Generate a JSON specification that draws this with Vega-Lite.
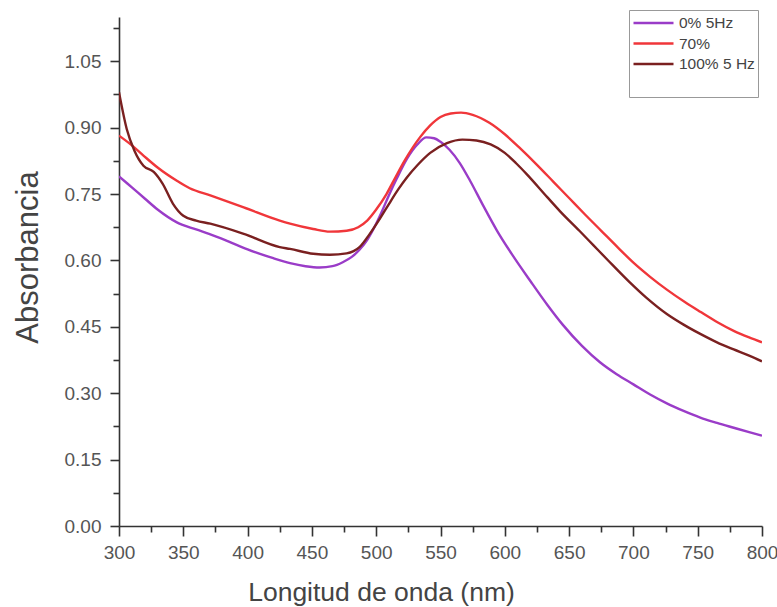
{
  "$schema": "https://vega.github.io/schema/vega-lite/v6.json",
  "width": 643,
  "height": 509,
  "autosize": {"type": "none"},
  "padding": {"left": 119, "top": 17, "right": 15, "bottom": 81},
  "background": "white",
  "config": {
    "view": {"stroke": null},
    "axis": {
      "grid": false,
      "domainColor": "#333333",
      "domainWidth": 1.6,
      "tickColor": "#333333",
      "tickWidth": 1.6,
      "labelFont": "Liberation Sans",
      "labelFontSize": 19,
      "labelColor": "#555555",
      "titleFont": "Liberation Sans",
      "titleColor": "#444444",
      "titleFontWeight": "normal"
    }
  },
  "data": {
    "values": [
      {"s": "0% 5Hz", "x": 300, "y": 0.79},
      {"s": "0% 5Hz", "x": 310, "y": 0.765},
      {"s": "0% 5Hz", "x": 320, "y": 0.74},
      {"s": "0% 5Hz", "x": 330, "y": 0.715},
      {"s": "0% 5Hz", "x": 345, "y": 0.686},
      {"s": "0% 5Hz", "x": 360, "y": 0.67},
      {"s": "0% 5Hz", "x": 370, "y": 0.66},
      {"s": "0% 5Hz", "x": 385, "y": 0.643},
      {"s": "0% 5Hz", "x": 400, "y": 0.625},
      {"s": "0% 5Hz", "x": 420, "y": 0.605},
      {"s": "0% 5Hz", "x": 433, "y": 0.594},
      {"s": "0% 5Hz", "x": 445, "y": 0.587},
      {"s": "0% 5Hz", "x": 456, "y": 0.584},
      {"s": "0% 5Hz", "x": 466, "y": 0.587},
      {"s": "0% 5Hz", "x": 474, "y": 0.596},
      {"s": "0% 5Hz", "x": 481, "y": 0.608},
      {"s": "0% 5Hz", "x": 487, "y": 0.624},
      {"s": "0% 5Hz", "x": 492, "y": 0.642},
      {"s": "0% 5Hz", "x": 498, "y": 0.672},
      {"s": "0% 5Hz", "x": 504, "y": 0.708},
      {"s": "0% 5Hz", "x": 510, "y": 0.748},
      {"s": "0% 5Hz", "x": 516, "y": 0.785},
      {"s": "0% 5Hz", "x": 524, "y": 0.83},
      {"s": "0% 5Hz", "x": 532, "y": 0.862},
      {"s": "0% 5Hz", "x": 539, "y": 0.878},
      {"s": "0% 5Hz", "x": 545, "y": 0.876},
      {"s": "0% 5Hz", "x": 550, "y": 0.868},
      {"s": "0% 5Hz", "x": 557, "y": 0.85},
      {"s": "0% 5Hz", "x": 565, "y": 0.82},
      {"s": "0% 5Hz", "x": 573, "y": 0.78},
      {"s": "0% 5Hz", "x": 583, "y": 0.725},
      {"s": "0% 5Hz", "x": 594, "y": 0.667},
      {"s": "0% 5Hz", "x": 606, "y": 0.612},
      {"s": "0% 5Hz", "x": 620, "y": 0.553},
      {"s": "0% 5Hz", "x": 633, "y": 0.5},
      {"s": "0% 5Hz", "x": 645, "y": 0.455},
      {"s": "0% 5Hz", "x": 660, "y": 0.407},
      {"s": "0% 5Hz", "x": 674, "y": 0.37},
      {"s": "0% 5Hz", "x": 687, "y": 0.343},
      {"s": "0% 5Hz", "x": 700, "y": 0.32},
      {"s": "0% 5Hz", "x": 713, "y": 0.297},
      {"s": "0% 5Hz", "x": 726, "y": 0.277},
      {"s": "0% 5Hz", "x": 739, "y": 0.26},
      {"s": "0% 5Hz", "x": 752, "y": 0.245},
      {"s": "0% 5Hz", "x": 765, "y": 0.233},
      {"s": "0% 5Hz", "x": 778, "y": 0.222},
      {"s": "0% 5Hz", "x": 790, "y": 0.212},
      {"s": "0% 5Hz", "x": 800, "y": 0.204},
      {"s": "70%", "x": 300, "y": 0.882},
      {"s": "70%", "x": 310, "y": 0.86},
      {"s": "70%", "x": 319, "y": 0.837},
      {"s": "70%", "x": 330, "y": 0.81},
      {"s": "70%", "x": 345, "y": 0.78},
      {"s": "70%", "x": 355, "y": 0.763},
      {"s": "70%", "x": 371, "y": 0.747},
      {"s": "70%", "x": 397, "y": 0.72},
      {"s": "70%", "x": 425, "y": 0.69},
      {"s": "70%", "x": 433, "y": 0.683},
      {"s": "70%", "x": 451, "y": 0.671},
      {"s": "70%", "x": 464, "y": 0.665},
      {"s": "70%", "x": 477, "y": 0.667},
      {"s": "70%", "x": 486, "y": 0.675},
      {"s": "70%", "x": 493, "y": 0.69},
      {"s": "70%", "x": 500, "y": 0.715},
      {"s": "70%", "x": 508, "y": 0.75},
      {"s": "70%", "x": 515, "y": 0.788},
      {"s": "70%", "x": 522, "y": 0.825},
      {"s": "70%", "x": 534, "y": 0.878},
      {"s": "70%", "x": 542, "y": 0.905},
      {"s": "70%", "x": 550, "y": 0.924},
      {"s": "70%", "x": 558, "y": 0.932},
      {"s": "70%", "x": 566, "y": 0.934},
      {"s": "70%", "x": 575, "y": 0.929},
      {"s": "70%", "x": 588, "y": 0.911},
      {"s": "70%", "x": 600, "y": 0.885},
      {"s": "70%", "x": 612, "y": 0.853},
      {"s": "70%", "x": 625, "y": 0.816},
      {"s": "70%", "x": 638, "y": 0.777},
      {"s": "70%", "x": 650, "y": 0.741},
      {"s": "70%", "x": 662, "y": 0.705},
      {"s": "70%", "x": 675, "y": 0.667},
      {"s": "70%", "x": 688, "y": 0.629},
      {"s": "70%", "x": 700, "y": 0.595},
      {"s": "70%", "x": 713, "y": 0.563},
      {"s": "70%", "x": 726, "y": 0.534},
      {"s": "70%", "x": 740, "y": 0.506},
      {"s": "70%", "x": 752, "y": 0.484},
      {"s": "70%", "x": 765, "y": 0.461},
      {"s": "70%", "x": 778, "y": 0.441},
      {"s": "70%", "x": 790, "y": 0.426},
      {"s": "70%", "x": 800, "y": 0.415},
      {"s": "100% 5 Hz", "x": 300, "y": 0.98},
      {"s": "100% 5 Hz", "x": 306, "y": 0.897},
      {"s": "100% 5 Hz", "x": 312, "y": 0.848},
      {"s": "100% 5 Hz", "x": 319, "y": 0.814},
      {"s": "100% 5 Hz", "x": 327, "y": 0.8},
      {"s": "100% 5 Hz", "x": 334, "y": 0.773},
      {"s": "100% 5 Hz", "x": 342, "y": 0.728},
      {"s": "100% 5 Hz", "x": 350, "y": 0.701},
      {"s": "100% 5 Hz", "x": 360, "y": 0.69},
      {"s": "100% 5 Hz", "x": 371, "y": 0.683},
      {"s": "100% 5 Hz", "x": 397, "y": 0.66},
      {"s": "100% 5 Hz", "x": 425, "y": 0.63},
      {"s": "100% 5 Hz", "x": 433, "y": 0.626},
      {"s": "100% 5 Hz", "x": 451, "y": 0.615},
      {"s": "100% 5 Hz", "x": 464, "y": 0.613},
      {"s": "100% 5 Hz", "x": 477, "y": 0.616},
      {"s": "100% 5 Hz", "x": 487, "y": 0.63},
      {"s": "100% 5 Hz", "x": 495, "y": 0.66},
      {"s": "100% 5 Hz", "x": 503, "y": 0.695},
      {"s": "100% 5 Hz", "x": 510, "y": 0.728},
      {"s": "100% 5 Hz", "x": 517, "y": 0.76},
      {"s": "100% 5 Hz", "x": 524, "y": 0.788},
      {"s": "100% 5 Hz", "x": 532, "y": 0.815},
      {"s": "100% 5 Hz", "x": 542, "y": 0.843},
      {"s": "100% 5 Hz", "x": 555, "y": 0.865},
      {"s": "100% 5 Hz", "x": 567, "y": 0.873},
      {"s": "100% 5 Hz", "x": 578, "y": 0.871},
      {"s": "100% 5 Hz", "x": 589, "y": 0.862},
      {"s": "100% 5 Hz", "x": 600, "y": 0.843},
      {"s": "100% 5 Hz", "x": 609, "y": 0.819},
      {"s": "100% 5 Hz", "x": 617, "y": 0.795},
      {"s": "100% 5 Hz", "x": 633, "y": 0.743},
      {"s": "100% 5 Hz", "x": 643, "y": 0.711},
      {"s": "100% 5 Hz", "x": 658, "y": 0.667},
      {"s": "100% 5 Hz", "x": 669, "y": 0.634},
      {"s": "100% 5 Hz", "x": 680, "y": 0.601},
      {"s": "100% 5 Hz", "x": 697, "y": 0.551},
      {"s": "100% 5 Hz", "x": 710, "y": 0.516},
      {"s": "100% 5 Hz", "x": 726, "y": 0.479},
      {"s": "100% 5 Hz", "x": 739, "y": 0.455},
      {"s": "100% 5 Hz", "x": 752, "y": 0.434},
      {"s": "100% 5 Hz", "x": 765, "y": 0.415},
      {"s": "100% 5 Hz", "x": 778, "y": 0.399},
      {"s": "100% 5 Hz", "x": 790, "y": 0.385},
      {"s": "100% 5 Hz", "x": 800, "y": 0.372}
    ]
  },
  "mark": {"type": "line", "strokeWidth": 2.4, "interpolate": "monotone", "clip": true},
  "encoding": {
    "x": {
      "field": "x",
      "type": "quantitative",
      "scale": {"domain": [300, 800], "nice": false, "zero": false},
      "axis": {
        "title": "Longitud de onda (nm)",
        "titleFontSize": 26.5,
        "titleX": 262,
        "titleY": 74,
        "titleBaseline": "alphabetic",
        "titleAlign": "center",
        "values": [300, 325, 350, 375, 400, 425, 450, 475, 500, 525, 550, 575, 600, 625, 650, 675, 700, 725, 750, 775, 800],
        "labelExpr": "datum.value % 50 === 0 ? datum.label : ''",
        "tickSize": {"condition": {"test": "datum.value % 50 === 0", "value": 10}, "value": 6},
        "labelPadding": 7,
        "labelFlush": false,
        "labelOverlap": false
      }
    },
    "y": {
      "field": "y",
      "type": "quantitative",
      "scale": {"domain": [0, 1.15], "nice": false, "zero": false},
      "axis": {
        "title": "Absorbancia",
        "titleFontSize": 31,
        "titleAngle": -90,
        "titleX": -82,
        "titleY": 240,
        "titleBaseline": "alphabetic",
        "titleAlign": "center",
        "values": [0, 0.075, 0.15, 0.225, 0.3, 0.375, 0.45, 0.525, 0.6, 0.675, 0.75, 0.825, 0.9, 0.975, 1.05, 1.125],
        "labelExpr": "round(datum.value * 1000) % 150 === 0 ? format(datum.value, '.2f') : ''",
        "tickSize": {"condition": {"test": "round(datum.value * 1000) % 150 === 0", "value": 9}, "value": 6},
        "labelPadding": 9,
        "labelOverlap": false
      }
    },
    "color": {
      "field": "s",
      "type": "nominal",
      "sort": ["0% 5Hz", "70%", "100% 5 Hz"],
      "scale": {"domain": ["0% 5Hz", "70%", "100% 5 Hz"], "range": ["#9A3CC8", "#F0363A", "#7A2020"]},
      "legend": {
        "orient": "none",
        "legendX": 510,
        "legendY": -7,
        "title": " ",
        "titleOrient": "bottom",
        "titleFontSize": 14,
        "titlePadding": 6,
        "symbolType": "stroke",
        "symbolSize": 1600,
        "symbolStrokeWidth": 2.5,
        "clipHeight": 20,
        "rowPadding": 0.5,
        "labelOffset": 4,
        "labelFont": "Liberation Sans",
        "labelFontSize": 15.5,
        "labelColor": "#444444",
        "padding": 3,
        "strokeColor": "#999999",
        "fillColor": "white"
      }
    }
  }
}
